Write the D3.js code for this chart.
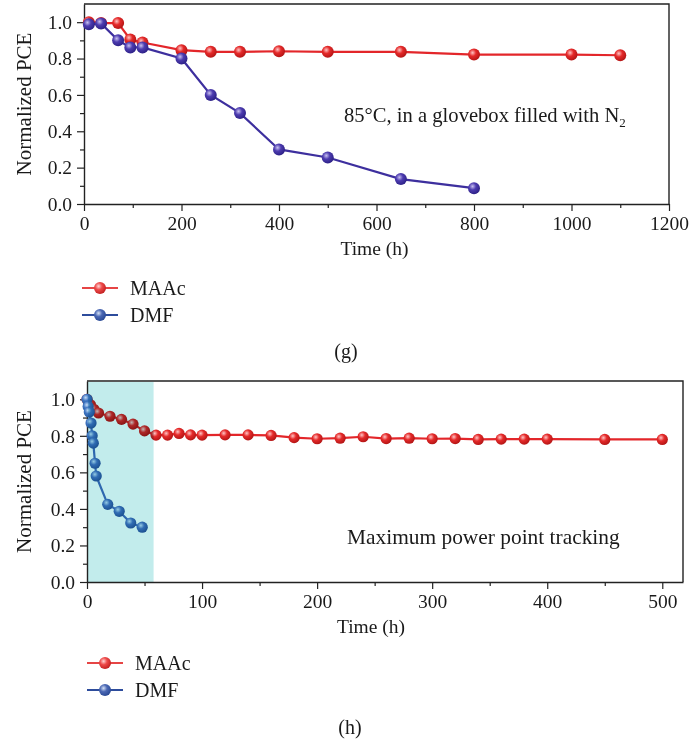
<!DOCTYPE html>
<html>
<head>
<meta charset="utf-8">
<script src="https://cdn.jsdelivr.net/npm/d3@7"></script>
<style>
  body { margin: 0; background: #fff; }
  text { font-family: "Liberation Serif", "Times New Roman", serif; fill: #1a1a1a; }
</style>
</head>
<body>
<div id="chart"></div>
<script>
/**
 * Data
 */
// (g) thermal stability, 85°C in N2 glovebox
const gTimeMAAc = [10, 35, 70, 95, 120, 200, 260, 320, 400, 500, 650, 800, 1000, 1100];
const gMAAc = [1.0, 0.995, 0.995, 0.905, 0.888, 0.846, 0.837, 0.837, 0.84, 0.837, 0.837, 0.822, 0.822, 0.818];
const gTimeDMF = [10, 35, 70, 95, 120, 200, 260, 320, 400, 500, 650, 800];
const gDMF = [0.988, 0.993, 0.90, 0.861, 0.861, 0.80, 0.60, 0.50, 0.30, 0.256, 0.137, 0.087];

// (h) maximum power point tracking
const hTimeMAAc = [0, 3, 6, 10, 20, 30, 40, 50, 60, 70, 80, 90, 100, 120, 140, 160, 180, 200,
  220, 240, 260, 280, 300, 320, 340, 360, 380, 400, 450, 500];
const hMAAc = [1.0, 0.97, 0.945, 0.925, 0.907, 0.89, 0.864, 0.827, 0.804, 0.804, 0.813, 0.805,
  0.804, 0.805, 0.805, 0.802, 0.79, 0.784, 0.787, 0.795, 0.785, 0.787, 0.784, 0.785, 0.78,
  0.782, 0.782, 0.782, 0.78, 0.78];
const hTimeDMF = [0, 1, 2, 3.5, 4.5, 5.5, 7, 8, 18, 28, 38, 48];
const hDMF = [1.0, 0.96, 0.93, 0.87, 0.80, 0.76, 0.65, 0.58, 0.425, 0.387, 0.323, 0.30];

const shadeEnd = 57;   // hours, shaded band in (h)
const seriesNames = ["MAAc", "DMF"];

/**
 * Basic settings
 */
const width = 691;
const height = 744;

const svg = d3.select("#chart")
  .append("svg")
  .attr("width", width)
  .attr("height", height);

const defs = svg.append("defs");

// shiny sphere markers
function sphere(id, light, mid, dark) {
  const g = defs.append("radialGradient")
    .attr("id", id)
    .attr("cx", "38%").attr("cy", "35%").attr("r", "65%");
  g.append("stop").attr("offset", "0%").attr("stop-color", light);
  g.append("stop").attr("offset", "45%").attr("stop-color", mid);
  g.append("stop").attr("offset", "100%").attr("stop-color", dark);
}
sphere("redBall", "#ffc4c4", "#e52a2a", "#b51616");
sphere("purpleBall", "#c8c0f0", "#4d3cb0", "#2e2288");
sphere("blueBall", "#c4dcf6", "#3f75c2", "#24589e");
sphere("legendRed", "#ffd6d6", "#ee4a4a", "#c42222");
sphere("legendBlue", "#d6e2f6", "#4b68b4", "#2a4a96");

function drawPanel(opt) {
  const x = d3.scaleLinear().domain(opt.xDomain).range([opt.left, opt.right]);
  const y = d3.scaleLinear().domain([0, 1.1]).range([opt.bottom, opt.top]);

  const g = svg.append("g");

  // frame top/right
  g.append("path")
    .attr("d", `M${opt.left},${opt.top}H${opt.right}V${opt.bottom}`)
    .attr("fill", "none")
    .attr("stroke", "#222")
    .attr("stroke-width", 1.4);

  // minor ticks
  g.append("g")
    .attr("transform", `translate(0,${opt.bottom})`)
    .call(d3.axisBottom(x).tickValues(opt.xMinor).tickSize(4).tickFormat(""))
    .call(a => a.select(".domain").remove());
  g.append("g")
    .attr("transform", `translate(${opt.left},0)`)
    .call(d3.axisLeft(y).tickValues(d3.range(0.1, 1.05, 0.2)).tickSize(4).tickFormat(""))
    .call(a => a.select(".domain").remove());

  // major axes
  const xAxis = g.append("g")
    .attr("transform", `translate(0,${opt.bottom})`)
    .call(d3.axisBottom(x).tickValues(opt.xTicks).tickSize(7).tickSizeOuter(0)
      .tickPadding(5).tickFormat(d3.format("d")));
  const yAxis = g.append("g")
    .attr("transform", `translate(${opt.left},0)`)
    .call(d3.axisLeft(y).tickValues([0, 0.2, 0.4, 0.6, 0.8, 1.0]).tickSize(7).tickSizeOuter(0)
      .tickPadding(5).tickFormat(d3.format(".1f")));

  [xAxis, yAxis].forEach(a => {
    a.select(".domain").attr("stroke", "#222").attr("stroke-width", 1.4);
    a.selectAll("text").style("font-size", "19.5px")
      .style("font-family", '"Liberation Serif", serif').attr("fill", "#1a1a1a");
  });
  g.selectAll(".tick line").attr("stroke", "#222").attr("stroke-width", 1.2);

  // axis titles
  g.append("text")
    .attr("x", (opt.left + opt.right) / 2 + opt.xTitleShift)
    .attr("y", opt.bottom + 51)
    .attr("text-anchor", "middle")
    .style("font-size", "19.5px")
    .text("Time (h)");
  g.append("text")
    .attr("transform", `translate(24,${(opt.top + opt.bottom) / 2}) rotate(-90)`)
    .attr("text-anchor", "middle")
    .attr("dy", "0.35em")
    .style("font-size", "21px")
    .text("Normalized PCE");

  // annotation
  const ann = g.append("text")
    .attr("x", opt.noteX)
    .attr("y", opt.noteY)
    .style("font-size", opt.noteSize + "px");
  opt.note(ann);

  const line = d3.line().x(d => x(d[0])).y(d => y(d[1]));

  opt.series.forEach(s => {
    const pts = s.t.map((t, i) => [t, s.v[i]]);
    g.append("path")
      .datum(pts)
      .attr("d", line)
      .attr("fill", "none")
      .attr("stroke", s.color)
      .attr("stroke-width", 2.2);
    g.append("g")
      .selectAll("circle")
      .data(pts)
      .join("circle")
      .attr("cx", d => x(d[0]))
      .attr("cy", d => y(d[1]))
      .attr("r", opt.r)
      .attr("fill", `url(#${s.ball})`);
  });

  if (opt.shade) {
    g.append("rect")
      .attr("x", x(0) + 1)
      .attr("y", opt.top + 1)
      .attr("width", x(opt.shade) - x(0))
      .attr("height", opt.bottom - opt.top - 1)
      .attr("fill", "#c2ecec")
      .style("mix-blend-mode", "multiply");
  }

  // legend
  const lg = svg.append("g");
  const legendCols = [["#e64545", "legendRed"], ["#2d4c9c", "legendBlue"]];
  seriesNames.forEach((name, i) => {
    const ly = opt.legendY + i * 27;
    lg.append("line")
      .attr("x1", opt.legendX).attr("x2", opt.legendX + 36)
      .attr("y1", ly).attr("y2", ly)
      .attr("stroke", legendCols[i][0]).attr("stroke-width", 1.8);
    lg.append("circle")
      .attr("cx", opt.legendX + 18).attr("cy", ly).attr("r", 6)
      .attr("fill", `url(#${legendCols[i][1]})`);
    lg.append("text")
      .attr("x", opt.legendX + 48).attr("y", ly)
      .attr("dy", "0.35em")
      .style("font-size", "20px")
      .text(name);
  });

  svg.append("text")
    .attr("x", opt.tagX).attr("y", opt.tagY)
    .attr("text-anchor", "middle")
    .style("font-size", "20px")
    .text(opt.tag);
}

/**
 * Panel (g)
 */
drawPanel({
  xDomain: [0, 1200], left: 84, right: 669, top: 4, bottom: 204,
  xTicks: d3.range(0, 1201, 200), xMinor: d3.range(100, 1200, 200),
  xTitleShift: -2, r: 6,
  series: [
    { t: gTimeMAAc, v: gMAAc, color: "#e3262a", ball: "redBall" },
    { t: gTimeDMF, v: gDMF, color: "#3d2f9e", ball: "purpleBall" }
  ],
  noteX: 344, noteY: 122, noteSize: 20.6,
  note: t => {
    t.append("tspan").text("85°C, in a glovebox filled with N");
    t.append("tspan").attr("dy", 5).style("font-size", "13px").text("2");
  },
  legendX: 82, legendY: 288,
  tag: "(g)", tagX: 346, tagY: 358
});

/**
 * Panel (h)
 */
drawPanel({
  xDomain: [0, 518], left: 87, right: 683, top: 381, bottom: 582,
  xTicks: d3.range(0, 501, 100), xMinor: d3.range(50, 500, 100),
  xTitleShift: -14, r: 5.6,
  series: [
    { t: hTimeMAAc, v: hMAAc, color: "#e3262a", ball: "redBall" },
    { t: hTimeDMF, v: hDMF, color: "#3c70bd", ball: "blueBall" }
  ],
  noteX: 347, noteY: 544, noteSize: 21.4,
  note: t => t.text("Maximum power point tracking"),
  shade: shadeEnd,
  legendX: 87, legendY: 663,
  tag: "(h)", tagX: 350, tagY: 734
});
</script>
</body>
</html>
